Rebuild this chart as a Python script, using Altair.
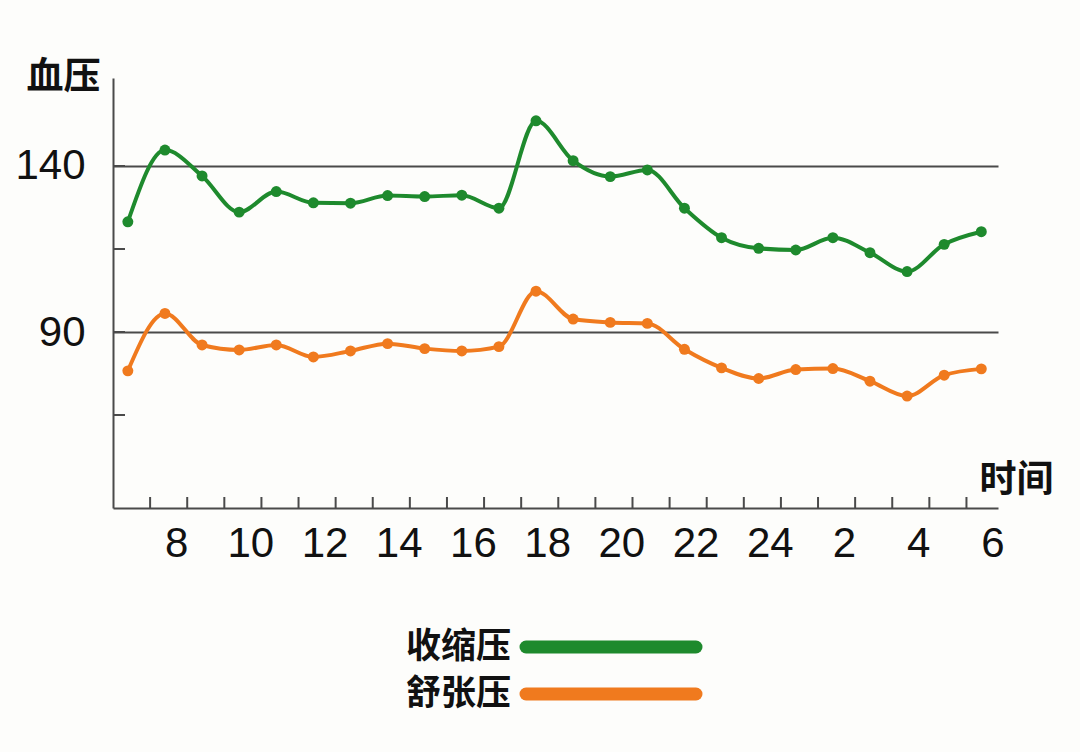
import altair as alt
import pandas as pd

# ---- data ----
hours = list(range(7, 31))  # 7:00 ... 30 (= 6:00 next day)
systolic = [123.2, 144.8, 137.0, 126.1, 132.3, 128.9, 128.8, 131.1, 130.8, 131.2, 127.3, 153.6,
            141.6, 136.8, 138.8, 127.3, 118.4, 115.2, 114.7, 118.4, 113.9, 108.2, 116.4, 120.2]
diastolic = [78.3, 95.6, 86.1, 84.6, 86.1, 82.5, 84.3, 86.5, 85.0, 84.3, 85.6, 102.3,
             93.9, 92.9, 92.6, 84.8, 79.2, 76.0, 78.7, 79.0, 75.2, 70.7, 77.0, 78.9]
series_names = ["收缩压", "舒张压"]
series_colors = ["#1e8a2d", "#f07a1e"]
x_label_hours = [8, 10, 12, 14, 16, 18, 20, 22, 24, 26, 28, 30]
y_label_values = [90, 140]
y_tick_values = [65, 90, 115, 140]
x_tick_hours = list(range(7, 30))

df = pd.DataFrame({
    "hour": hours + hours,
    "value": systolic + diastolic,
    "series": [series_names[0]] * len(hours) + [series_names[1]] * len(hours),
})

W, H = 885, 430
AXC = "#4a4a4a"
NUMFONT = "Liberation Sans"
CJK = "Noto Sans CJK SC"

xscale = alt.Scale(domain=[6.6, 30.45], nice=False, zero=False)
yscale = alt.Scale(domain=[37, 166.5], nice=False, zero=False)
cscale = alt.Scale(domain=series_names, range=series_colors)

x_axis = alt.Axis(
    values=[h + 0.3 for h in x_label_hours],
    labelExpr="round(datum.value) > 24 ? round(datum.value) - 24 : round(datum.value)",
    ticks=False, grid=False, domainColor=AXC, domainWidth=2,
    labelFont=NUMFONT, labelFontSize=42, labelColor="#111", labelPadding=15,
    labelFlush=False, labelOverlap=False,
    title="时间", titleFont=CJK, titleFontSize=37, titleFontWeight="bold", titleColor="#111",
    titleX=866, titleY=-28, titleAlign="left", titleBaseline="middle", titleAnchor="start",
)
y_axis = alt.Axis(
    values=y_label_values, ticks=False, grid=True, gridColor=AXC, gridWidth=2,
    domainColor=AXC, domainWidth=2,
    labelFont=NUMFONT, labelFontSize=42, labelColor="#111", labelPadding=28,
    title="血压", titleFont=CJK, titleFontSize=37, titleFontWeight="bold", titleColor="#111",
    titleAngle=0, titleX=-13, titleY=-1, titleAlign="right", titleBaseline="middle", titleAnchor="start",
)

base = alt.Chart(df)

lines = base.mark_line(interpolate="monotone", strokeWidth=4).encode(
    x=alt.X("hour:Q", scale=xscale, axis=x_axis),
    y=alt.Y("value:Q", scale=yscale, axis=y_axis),
    color=alt.Color("series:N", scale=cscale, legend=None),
)
points = base.mark_circle(size=120, opacity=1).encode(
    x=alt.X("hour:Q", scale=xscale, axis=x_axis),
    y=alt.Y("value:Q", scale=yscale, axis=y_axis),
    color=alt.Color("series:N", scale=cscale, legend=None),
)

ytick_df = pd.DataFrame({"v": y_tick_values})
yticks = alt.Chart(ytick_df).mark_rule(color=AXC, strokeWidth=2).encode(
    y=alt.Y("v:Q", scale=yscale, axis=y_axis),
    x=alt.value(0), x2=alt.value(12),
)
xtick_df = pd.DataFrame({"t": [h + 0.6 for h in x_tick_hours]})
xticks = alt.Chart(xtick_df).mark_rule(color=AXC, strokeWidth=2).encode(
    x=alt.X("t:Q", scale=xscale, axis=x_axis),
    y=alt.value(H), y2=alt.value(H - 11),
)

one = pd.DataFrame({"a": [0]})
legend_layers = []
for i, (name, col) in enumerate(zip(series_names, series_colors)):
    ly = 569 + 47 * i
    legend_layers.append(
        alt.Chart(one).mark_rule(color=col, strokeWidth=13, strokeCap="round").encode(
            x=alt.value(413), x2=alt.value(583), y=alt.value(ly)
        )
    )
    legend_layers.append(
        alt.Chart(one).mark_text(font=CJK, fontSize=35, fontWeight="bold", color="#111",
                                 align="right", baseline="middle").encode(
            x=alt.value(398), y=alt.value(ly), text=alt.value(name)
        )
    )

chart = alt.layer(yticks, xticks, lines, points, *legend_layers).properties(
    width=W, height=H,
    autosize=alt.AutoSizeParams(type="none"),
    padding={"left": 113, "top": 78, "right": 82, "bottom": 244},
    background="#fdfdfb",
).configure_view(stroke=None)

chart.save("out.html", embed_options={"renderer": "svg", "actions": False})
